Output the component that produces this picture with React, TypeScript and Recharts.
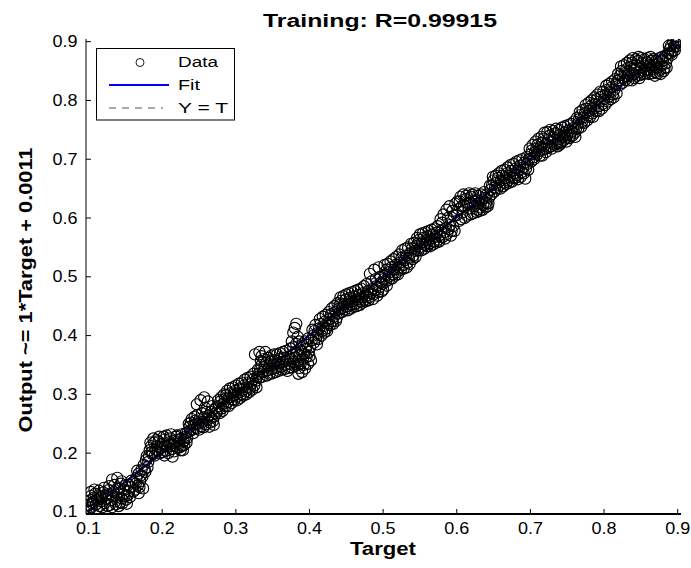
import React from "react"
import { ScatterChart, Scatter, XAxis, YAxis } from "recharts"

// [target, output] pairs, grouped by target range
const band1: [number, number][] = [
  [0.100, 0.100], [0.101, 0.112], [0.102, 0.120], [0.103, 0.127], [0.104, 0.108], [0.106, 0.117], [0.107, 0.124], [0.109, 0.131], [0.110, 0.113], [0.112, 0.121],
  [0.113, 0.128], [0.115, 0.110], [0.117, 0.118], [0.118, 0.126], [0.120, 0.133], [0.122, 0.115], [0.124, 0.122], [0.125, 0.130], [0.127, 0.137], [0.129, 0.112],
  [0.131, 0.120], [0.132, 0.155], [0.133, 0.127], [0.134, 0.134], [0.136, 0.118], [0.138, 0.125], [0.139, 0.158], [0.140, 0.132], [0.142, 0.140], [0.143, 0.116],
  [0.145, 0.123], [0.145, 0.152], [0.147, 0.130], [0.148, 0.137], [0.150, 0.145], [0.151, 0.121], [0.153, 0.128], [0.155, 0.135], [0.157, 0.142], [0.160, 0.150],
  [0.163, 0.138], [0.165, 0.158], [0.167, 0.145], [0.168, 0.132], [0.168, 0.165], [0.170, 0.152], [0.172, 0.172], [0.173, 0.160], [0.174, 0.140], [0.175, 0.180],
  [0.177, 0.168], [0.178, 0.188], [0.180, 0.176], [0.182, 0.195],
  [0.101, 0.104], [0.103, 0.134], [0.105, 0.114], [0.108, 0.138], [0.111, 0.106], [0.114, 0.136], [0.116, 0.125], [0.119, 0.108], [0.121, 0.141], [0.123, 0.128],
  [0.126, 0.110], [0.128, 0.144], [0.130, 0.130], [0.132, 0.108], [0.135, 0.146], [0.137, 0.113], [0.139, 0.139], [0.141, 0.110], [0.144, 0.148], [0.146, 0.115],
  [0.149, 0.127], [0.152, 0.114], [0.154, 0.146], [0.156, 0.125], [0.158, 0.153], [0.161, 0.135], [0.164, 0.148], [0.166, 0.170], [0.169, 0.142], [0.171, 0.162],
  [0.176, 0.172], [0.179, 0.195], [0.181, 0.185],
]
const band2: [number, number][] = [
  [0.183, 0.205], [0.185, 0.212], [0.187, 0.198], [0.189, 0.218], [0.191, 0.206], [0.193, 0.212], [0.195, 0.220], [0.197, 0.200], [0.199, 0.209], [0.201, 0.216],
  [0.203, 0.223], [0.203, 0.196], [0.205, 0.204], [0.207, 0.211], [0.209, 0.218], [0.211, 0.225], [0.213, 0.207], [0.214, 0.194], [0.215, 0.214], [0.217, 0.221],
  [0.219, 0.228], [0.221, 0.210], [0.223, 0.217], [0.225, 0.224], [0.225, 0.205], [0.227, 0.213], [0.229, 0.220], [0.231, 0.227], [0.233, 0.218], [0.235, 0.236],
  [0.237, 0.245], [0.239, 0.252], [0.241, 0.240], [0.243, 0.248], [0.245, 0.255], [0.247, 0.242], [0.247, 0.283], [0.249, 0.250], [0.251, 0.258], [0.252, 0.290],
  [0.253, 0.246], [0.255, 0.253], [0.257, 0.261], [0.257, 0.295], [0.258, 0.277], [0.259, 0.249], [0.261, 0.257], [0.262, 0.288], [0.263, 0.264], [0.265, 0.252],
  [0.267, 0.260], [0.268, 0.280], [0.269, 0.255], [0.271, 0.263], [0.273, 0.268],
  [0.184, 0.218], [0.186, 0.202], [0.188, 0.225], [0.190, 0.196], [0.192, 0.222], [0.194, 0.204], [0.196, 0.228], [0.198, 0.215], [0.200, 0.202], [0.202, 0.228],
  [0.204, 0.212], [0.206, 0.230], [0.208, 0.200], [0.210, 0.215], [0.212, 0.232], [0.216, 0.203], [0.218, 0.212], [0.220, 0.230], [0.222, 0.222], [0.224, 0.210],
  [0.226, 0.232], [0.228, 0.205], [0.230, 0.214], [0.232, 0.234], [0.234, 0.226], [0.236, 0.250], [0.238, 0.238], [0.240, 0.258], [0.242, 0.234], [0.244, 0.262],
  [0.246, 0.250], [0.248, 0.265], [0.250, 0.240], [0.254, 0.268], [0.256, 0.244], [0.260, 0.270], [0.264, 0.245], [0.266, 0.270], [0.270, 0.248], [0.272, 0.276],
]
const band3: [number, number][] = [
  [0.275, 0.272], [0.277, 0.280], [0.279, 0.288], [0.281, 0.276], [0.283, 0.284], [0.285, 0.292], [0.287, 0.299], [0.289, 0.287], [0.291, 0.295], [0.293, 0.302],
  [0.295, 0.291], [0.297, 0.299], [0.299, 0.306], [0.301, 0.296], [0.303, 0.303], [0.305, 0.310], [0.307, 0.300], [0.309, 0.308], [0.311, 0.315], [0.313, 0.305],
  [0.315, 0.312], [0.317, 0.320], [0.319, 0.310], [0.321, 0.318], [0.323, 0.325], [0.325, 0.315], [0.326, 0.368], [0.327, 0.323], [0.329, 0.330], [0.332, 0.372],
  [0.276, 0.290], [0.278, 0.268], [0.280, 0.295], [0.282, 0.272], [0.284, 0.300], [0.286, 0.280], [0.288, 0.306], [0.290, 0.280], [0.292, 0.310], [0.294, 0.285],
  [0.296, 0.312], [0.298, 0.290], [0.300, 0.315], [0.302, 0.290], [0.304, 0.318], [0.306, 0.294], [0.308, 0.320], [0.310, 0.298], [0.312, 0.325], [0.314, 0.300],
  [0.316, 0.328], [0.318, 0.304], [0.320, 0.330], [0.322, 0.308], [0.324, 0.335], [0.328, 0.312], [0.330, 0.342],
]
const band4: [number, number][] = [
  [0.331, 0.335], [0.333, 0.343], [0.335, 0.350], [0.335, 0.365], [0.337, 0.338], [0.339, 0.346], [0.340, 0.372], [0.341, 0.353], [0.343, 0.341], [0.345, 0.348],
  [0.347, 0.356], [0.349, 0.343], [0.351, 0.351], [0.353, 0.358], [0.355, 0.345], [0.357, 0.353], [0.359, 0.360], [0.361, 0.347], [0.363, 0.355], [0.365, 0.362],
  [0.367, 0.350], [0.369, 0.357], [0.370, 0.340], [0.371, 0.364], [0.373, 0.352], [0.375, 0.360], [0.376, 0.390], [0.377, 0.367], [0.378, 0.405], [0.379, 0.355],
  [0.380, 0.413], [0.381, 0.363], [0.382, 0.420], [0.383, 0.370], [0.384, 0.398], [0.385, 0.358], [0.385, 0.335], [0.386, 0.345], [0.387, 0.366], [0.389, 0.374],
  [0.390, 0.338], [0.391, 0.360], [0.393, 0.369], [0.394, 0.344], [0.395, 0.377], [0.397, 0.384], [0.398, 0.352], [0.399, 0.372], [0.401, 0.380], [0.402, 0.358],
  [0.332, 0.328], [0.334, 0.357], [0.336, 0.330], [0.338, 0.360], [0.342, 0.332], [0.344, 0.362], [0.346, 0.335], [0.348, 0.366], [0.350, 0.336], [0.352, 0.368],
  [0.354, 0.338], [0.356, 0.368], [0.358, 0.340], [0.360, 0.370], [0.362, 0.342], [0.364, 0.372], [0.366, 0.343], [0.368, 0.374], [0.372, 0.345], [0.374, 0.378],
  [0.376, 0.346], [0.378, 0.380], [0.380, 0.348], [0.382, 0.386], [0.384, 0.350], [0.386, 0.390], [0.388, 0.352], [0.390, 0.385], [0.392, 0.350], [0.394, 0.390],
  [0.396, 0.364], [0.398, 0.395], [0.400, 0.365],
]
const band5: [number, number][] = [
  [0.403, 0.392], [0.405, 0.400], [0.407, 0.408], [0.409, 0.396], [0.410, 0.385], [0.411, 0.404], [0.413, 0.412], [0.415, 0.420], [0.417, 0.408], [0.419, 0.416],
  [0.421, 0.424], [0.423, 0.412], [0.425, 0.420], [0.427, 0.428], [0.429, 0.436], [0.431, 0.424], [0.433, 0.432], [0.435, 0.440], [0.437, 0.430], [0.439, 0.445],
  [0.441, 0.452], [0.443, 0.459], [0.445, 0.447], [0.447, 0.454], [0.449, 0.461], [0.451, 0.450], [0.453, 0.457], [0.455, 0.464], [0.457, 0.452], [0.459, 0.459],
  [0.461, 0.466], [0.463, 0.455], [0.465, 0.462], [0.467, 0.469], [0.469, 0.458], [0.471, 0.465], [0.473, 0.472], [0.475, 0.461], [0.477, 0.468], [0.479, 0.475],
  [0.481, 0.465], [0.482, 0.505], [0.483, 0.472], [0.485, 0.479], [0.487, 0.470], [0.488, 0.512], [0.489, 0.477], [0.491, 0.484], [0.493, 0.474], [0.494, 0.516],
  [0.495, 0.482], [0.497, 0.490],
  [0.404, 0.410], [0.406, 0.388], [0.408, 0.418], [0.412, 0.394], [0.414, 0.428], [0.416, 0.400], [0.418, 0.432], [0.420, 0.405], [0.422, 0.435], [0.424, 0.408],
  [0.426, 0.440], [0.428, 0.418], [0.430, 0.446], [0.432, 0.420], [0.434, 0.450], [0.436, 0.425], [0.438, 0.455], [0.440, 0.438], [0.442, 0.465], [0.444, 0.440],
  [0.446, 0.467], [0.448, 0.444], [0.450, 0.470], [0.452, 0.443], [0.454, 0.472], [0.456, 0.446], [0.458, 0.474], [0.460, 0.449], [0.462, 0.476], [0.464, 0.450],
  [0.466, 0.478], [0.468, 0.452], [0.470, 0.480], [0.472, 0.456], [0.474, 0.484], [0.476, 0.458], [0.478, 0.488], [0.480, 0.460], [0.484, 0.492], [0.486, 0.462],
  [0.490, 0.496], [0.492, 0.468], [0.496, 0.500], [0.498, 0.475],
]
const band6: [number, number][] = [
  [0.499, 0.488], [0.500, 0.478], [0.501, 0.496], [0.503, 0.504], [0.505, 0.512], [0.505, 0.485], [0.507, 0.500], [0.509, 0.508], [0.511, 0.516], [0.513, 0.504],
  [0.515, 0.512], [0.517, 0.520], [0.519, 0.508], [0.521, 0.516], [0.523, 0.524], [0.525, 0.532], [0.527, 0.520], [0.529, 0.528], [0.531, 0.536], [0.533, 0.524],
  [0.535, 0.532], [0.537, 0.540], [0.539, 0.548], [0.541, 0.536], [0.543, 0.544], [0.545, 0.552], [0.547, 0.556], [0.549, 0.563], [0.551, 0.551], [0.553, 0.559],
  [0.555, 0.566], [0.557, 0.554], [0.559, 0.562], [0.561, 0.569], [0.563, 0.557], [0.565, 0.565], [0.567, 0.572], [0.569, 0.560], [0.571, 0.568], [0.573, 0.575],
  [0.575, 0.563], [0.577, 0.571], [0.578, 0.598], [0.579, 0.578], [0.581, 0.568], [0.582, 0.606], [0.583, 0.576], [0.585, 0.583], [0.586, 0.614], [0.587, 0.573],
  [0.589, 0.581], [0.590, 0.620], [0.591, 0.588], [0.593, 0.578], [0.594, 0.612], [0.595, 0.586], [0.598, 0.624],
  [0.502, 0.520], [0.504, 0.492], [0.506, 0.522], [0.508, 0.495], [0.510, 0.526], [0.512, 0.497], [0.514, 0.530], [0.516, 0.502], [0.518, 0.534], [0.520, 0.504],
  [0.522, 0.538], [0.524, 0.512], [0.526, 0.545], [0.528, 0.514], [0.530, 0.548], [0.532, 0.516], [0.534, 0.550], [0.536, 0.522], [0.538, 0.556], [0.540, 0.530],
  [0.542, 0.558], [0.544, 0.534], [0.546, 0.566], [0.548, 0.545], [0.550, 0.572], [0.552, 0.545], [0.554, 0.574], [0.556, 0.548], [0.558, 0.576], [0.560, 0.552],
  [0.562, 0.578], [0.564, 0.552], [0.566, 0.580], [0.568, 0.555], [0.570, 0.582], [0.572, 0.558], [0.574, 0.586], [0.576, 0.560], [0.580, 0.592], [0.584, 0.565],
  [0.588, 0.600], [0.592, 0.570], [0.596, 0.604], [0.597, 0.578],
]
const band7: [number, number][] = [
  [0.600, 0.605], [0.602, 0.615], [0.604, 0.628], [0.606, 0.598], [0.608, 0.610], [0.610, 0.621], [0.612, 0.632], [0.614, 0.604], [0.616, 0.616], [0.618, 0.626],
  [0.620, 0.636], [0.622, 0.608], [0.624, 0.620], [0.626, 0.630], [0.628, 0.614], [0.630, 0.625], [0.632, 0.618], [0.634, 0.630], [0.636, 0.622], [0.638, 0.634],
  [0.640, 0.626], [0.642, 0.620], [0.644, 0.635], [0.646, 0.648], [0.648, 0.656], [0.650, 0.664], [0.652, 0.652], [0.654, 0.660], [0.656, 0.668], [0.658, 0.656],
  [0.660, 0.664], [0.662, 0.672], [0.664, 0.660], [0.666, 0.668], [0.668, 0.676], [0.670, 0.664], [0.672, 0.672], [0.674, 0.680], [0.676, 0.668], [0.678, 0.676],
  [0.680, 0.684], [0.682, 0.673], [0.684, 0.681], [0.686, 0.689], [0.688, 0.678], [0.690, 0.686], [0.692, 0.694], [0.693, 0.667], [0.694, 0.684], [0.696, 0.692],
  [0.601, 0.628], [0.603, 0.595], [0.605, 0.636], [0.607, 0.620], [0.609, 0.640], [0.611, 0.600], [0.613, 0.638], [0.615, 0.625], [0.617, 0.642], [0.619, 0.606],
  [0.621, 0.640], [0.623, 0.628], [0.625, 0.642], [0.627, 0.610], [0.629, 0.638], [0.631, 0.612], [0.633, 0.640], [0.635, 0.614], [0.637, 0.644], [0.639, 0.618],
  [0.641, 0.640], [0.643, 0.625], [0.645, 0.655], [0.647, 0.640], [0.649, 0.670], [0.651, 0.645], [0.653, 0.672], [0.655, 0.650], [0.657, 0.676], [0.659, 0.650],
  [0.661, 0.680], [0.663, 0.654], [0.665, 0.682], [0.667, 0.658], [0.669, 0.686], [0.671, 0.660], [0.673, 0.690], [0.675, 0.662], [0.677, 0.692], [0.679, 0.668],
  [0.681, 0.696], [0.683, 0.666], [0.685, 0.698], [0.687, 0.670], [0.689, 0.700], [0.691, 0.676], [0.695, 0.704], [0.697, 0.682],
]
const band8: [number, number][] = [
  [0.698, 0.700], [0.700, 0.708], [0.702, 0.715], [0.704, 0.703], [0.706, 0.711], [0.708, 0.718], [0.710, 0.725], [0.712, 0.714], [0.714, 0.721], [0.716, 0.706],
  [0.716, 0.728], [0.718, 0.735], [0.720, 0.718], [0.722, 0.726], [0.724, 0.733], [0.726, 0.740], [0.728, 0.722], [0.730, 0.730], [0.732, 0.737], [0.734, 0.744],
  [0.736, 0.727], [0.738, 0.734], [0.740, 0.725], [0.740, 0.741], [0.742, 0.730], [0.744, 0.738], [0.746, 0.745], [0.748, 0.735], [0.750, 0.742], [0.752, 0.749],
  [0.754, 0.740], [0.756, 0.747], [0.758, 0.753], [0.760, 0.745], [0.762, 0.752], [0.764, 0.760], [0.766, 0.768], [0.768, 0.775], [0.770, 0.763], [0.772, 0.771],
  [0.774, 0.778], [0.776, 0.786], [0.778, 0.774], [0.780, 0.782], [0.782, 0.790], [0.784, 0.778], [0.786, 0.786], [0.788, 0.794], [0.790, 0.802], [0.792, 0.790],
  [0.794, 0.798], [0.796, 0.806], [0.798, 0.794],
  [0.699, 0.718], [0.701, 0.696], [0.703, 0.724], [0.705, 0.700], [0.707, 0.730], [0.709, 0.708], [0.711, 0.735], [0.713, 0.706], [0.715, 0.738], [0.717, 0.716],
  [0.719, 0.745], [0.721, 0.712], [0.723, 0.746], [0.725, 0.720], [0.727, 0.750], [0.729, 0.718], [0.731, 0.748], [0.733, 0.725], [0.735, 0.752], [0.737, 0.722],
  [0.739, 0.750], [0.741, 0.728], [0.743, 0.754], [0.745, 0.732], [0.747, 0.756], [0.749, 0.730], [0.751, 0.758], [0.753, 0.736], [0.755, 0.760], [0.757, 0.740],
  [0.759, 0.764], [0.761, 0.738], [0.763, 0.770], [0.765, 0.752], [0.767, 0.780], [0.769, 0.755], [0.771, 0.784], [0.773, 0.762], [0.775, 0.792], [0.777, 0.766],
  [0.779, 0.796], [0.781, 0.772], [0.783, 0.800], [0.785, 0.772], [0.787, 0.805], [0.789, 0.782], [0.791, 0.810], [0.793, 0.782], [0.795, 0.815], [0.797, 0.786],
  [0.799, 0.815],
]
const band9: [number, number][] = [
  [0.800, 0.802], [0.802, 0.810], [0.804, 0.818], [0.806, 0.806], [0.808, 0.814], [0.810, 0.822], [0.812, 0.810], [0.814, 0.818], [0.816, 0.826], [0.818, 0.833],
  [0.820, 0.835], [0.822, 0.843], [0.824, 0.850], [0.826, 0.838], [0.828, 0.846], [0.830, 0.853], [0.832, 0.841], [0.834, 0.849], [0.836, 0.857], [0.838, 0.864],
  [0.838, 0.834], [0.840, 0.845], [0.842, 0.853], [0.844, 0.860], [0.846, 0.867], [0.848, 0.848], [0.848, 0.838], [0.850, 0.856], [0.852, 0.863], [0.854, 0.850],
  [0.856, 0.858], [0.858, 0.865], [0.860, 0.852], [0.862, 0.860], [0.864, 0.867], [0.866, 0.854], [0.868, 0.861], [0.870, 0.848], [0.872, 0.856], [0.874, 0.863],
  [0.876, 0.852], [0.878, 0.860], [0.880, 0.868], [0.882, 0.855], [0.884, 0.863], [0.886, 0.871], [0.887, 0.880], [0.889, 0.887], [0.891, 0.893], [0.892, 0.878],
  [0.893, 0.884], [0.895, 0.891], [0.897, 0.897], [0.898, 0.892], [0.899, 0.900], [0.900, 0.898],
  [0.801, 0.792], [0.803, 0.825], [0.805, 0.798], [0.807, 0.828], [0.809, 0.802], [0.811, 0.832], [0.813, 0.805], [0.815, 0.836], [0.817, 0.812], [0.819, 0.845],
  [0.821, 0.826], [0.823, 0.858], [0.825, 0.830], [0.827, 0.860], [0.829, 0.835], [0.831, 0.864], [0.833, 0.834], [0.835, 0.868], [0.837, 0.842], [0.839, 0.872],
  [0.841, 0.838], [0.843, 0.870], [0.845, 0.842], [0.847, 0.874], [0.849, 0.843], [0.851, 0.872], [0.853, 0.845], [0.855, 0.870], [0.857, 0.846], [0.859, 0.872],
  [0.861, 0.845], [0.863, 0.874], [0.865, 0.846], [0.867, 0.870], [0.869, 0.842], [0.871, 0.868], [0.873, 0.846], [0.875, 0.872], [0.877, 0.845], [0.879, 0.874],
  [0.881, 0.850], [0.883, 0.876], [0.885, 0.856], [0.888, 0.893], [0.890, 0.880], [0.894, 0.900], [0.896, 0.885], [0.899, 0.903],
]

// fit: Output ~= 1*Target + 0.0011, and the Y = T reference
const fitLine = [{ t: 0.1, o: 0.1011 }, { t: 0.9, o: 0.9011 }]
const identityLine = [{ t: 0.1, o: 0.1 }, { t: 0.9, o: 0.9 }]

const ticks = [0.1, 0.2, 0.3, 0.4, 0.5, 0.6, 0.7, 0.8, 0.9]
const axisDomain: [number, number] = [0.0965, 0.9045]

const title = "Training: R=0.99915"
const xTitle = "Target"
const yTitle = "Output ~= 1*Target + 0.0011"

const points = [...band1, ...band2, ...band3, ...band4, ...band5, ...band6, ...band7, ...band8, ...band9].map(([t, o]) => ({ t, o }))

const font = "'Liberation Sans', Arial, Helvetica, sans-serif"

const BottomTick = ({ x, y, payload }: any) => (
  <g>
    <line x1={x} y1={y} x2={x} y2={y - 5} stroke="#000" />
    <text x={x} y={y + 20} textAnchor="middle" fontSize={16} fontFamily={font} fill="#000" textLength={25} lengthAdjust="spacingAndGlyphs">
      {Number(payload.value).toFixed(1)}
    </text>
  </g>
)

const LeftTick = ({ x, y, payload }: any) => (
  <g>
    <line x1={x} y1={y} x2={x + 5} y2={y} stroke="#000" />
    <text x={x - 8.5} y={y + 5.5} textAnchor="end" fontSize={16} fontFamily={font} fill="#000" textLength={25} lengthAdjust="spacingAndGlyphs">
      {Number(payload.value).toFixed(1)}
    </text>
  </g>
)

const TopTick = ({ x, y }: any) => <line x1={x} y1={y} x2={x} y2={y + 5} stroke="#000" />
const RightTick = ({ x, y }: any) => <line x1={x} y1={y} x2={x - 5} y2={y} stroke="#000" />

const ring = (p: any) => <circle cx={p.cx} cy={p.cy} r={5.6} fill="none" stroke="#000" strokeWidth={1.15} />
const noMark = () => <g />

export default function App() {
  return (
    <div style={{ position: "absolute", left: 0, top: 0, width: 691, height: 568, background: "#fff" }}>
      <ScatterChart width={691} height={568} margin={{ top: 39, right: 10, bottom: 24, left: 26 }}>
        <XAxis xAxisId="b" dataKey="t" type="number" domain={axisDomain} ticks={ticks} allowDataOverflow
          height={30} tickLine={false} tickSize={0} tickMargin={0} tick={<BottomTick />} axisLine={{ stroke: "#000", strokeWidth: 2 }} />
        <XAxis xAxisId="top" orientation="top" dataKey="t" type="number" domain={axisDomain} ticks={ticks} allowDataOverflow
          height={0} tickLine={false} tickSize={0} tickMargin={0} tick={<TopTick />} axisLine={{ stroke: "#000", strokeWidth: 1 }} />
        <YAxis yAxisId="l" dataKey="o" type="number" domain={axisDomain} ticks={ticks} allowDataOverflow
          width={60} tickLine={false} tickSize={0} tickMargin={0} tick={<LeftTick />} axisLine={{ stroke: "#000", strokeWidth: 1 }} />
        <YAxis yAxisId="right" orientation="right" dataKey="o" type="number" domain={axisDomain} ticks={ticks} allowDataOverflow
          width={0} tickLine={false} tickSize={0} tickMargin={0} tick={<RightTick />} axisLine={{ stroke: "#000", strokeWidth: 1 }} />

        <Scatter xAxisId="top" yAxisId="right" data={identityLine} dataKey="o" shape={noMark}
          line={{ stroke: "#555", strokeWidth: 1, strokeDasharray: "6 5" }} isAnimationActive={false} />
        <Scatter xAxisId="b" yAxisId="l" data={fitLine} dataKey="o" shape={noMark}
          line={{ stroke: "#0000ff", strokeWidth: 2 }} isAnimationActive={false} />
        <Scatter xAxisId="b" yAxisId="l" data={points} dataKey="o" shape={ring} isAnimationActive={false} />
      </ScatterChart>

      <svg width={691} height={568} style={{ position: "absolute", left: 0, top: 0, pointerEvents: "none" }}>
        <text x={380} y={27} textAnchor="middle" fontSize={18} fontWeight="bold" fontFamily={font} fill="#000"
          textLength={234} lengthAdjust="spacingAndGlyphs">{title}</text>
        <text x={383} y={555} textAnchor="middle" fontSize={18} fontWeight="bold" fontFamily={font} fill="#000"
          textLength={66} lengthAdjust="spacingAndGlyphs">{xTitle}</text>
        <text transform="translate(31.5,290) rotate(-90)" textAnchor="middle" fontSize={18} fontWeight="bold" fontFamily={font} fill="#000"
          textLength={285} lengthAdjust="spacingAndGlyphs">{yTitle}</text>

        <rect x={96.5} y={48.5} width={138} height={71.5} fill="#fff" stroke="#000" strokeWidth={1} />
        <circle cx={140} cy={62.5} r={4} fill="none" stroke="#000" strokeWidth={0.9} />
        <text x={178} y={67} fontSize={14} fontFamily={font} fill="#000" textLength={40} lengthAdjust="spacingAndGlyphs">Data</text>
        <line x1={109} y1={85} x2={169} y2={85} stroke="#0000ff" strokeWidth={2} />
        <text x={178} y={90} fontSize={14} fontFamily={font} fill="#000" textLength={22} lengthAdjust="spacingAndGlyphs">Fit</text>
        <line x1={109} y1={108} x2={163} y2={108} stroke="#555" strokeWidth={1} strokeDasharray="7 6" />
        <text x={178} y={113} fontSize={14} fontFamily={font} fill="#000" textLength={50} lengthAdjust="spacingAndGlyphs">Y = T</text>
      </svg>
    </div>
  )
}
